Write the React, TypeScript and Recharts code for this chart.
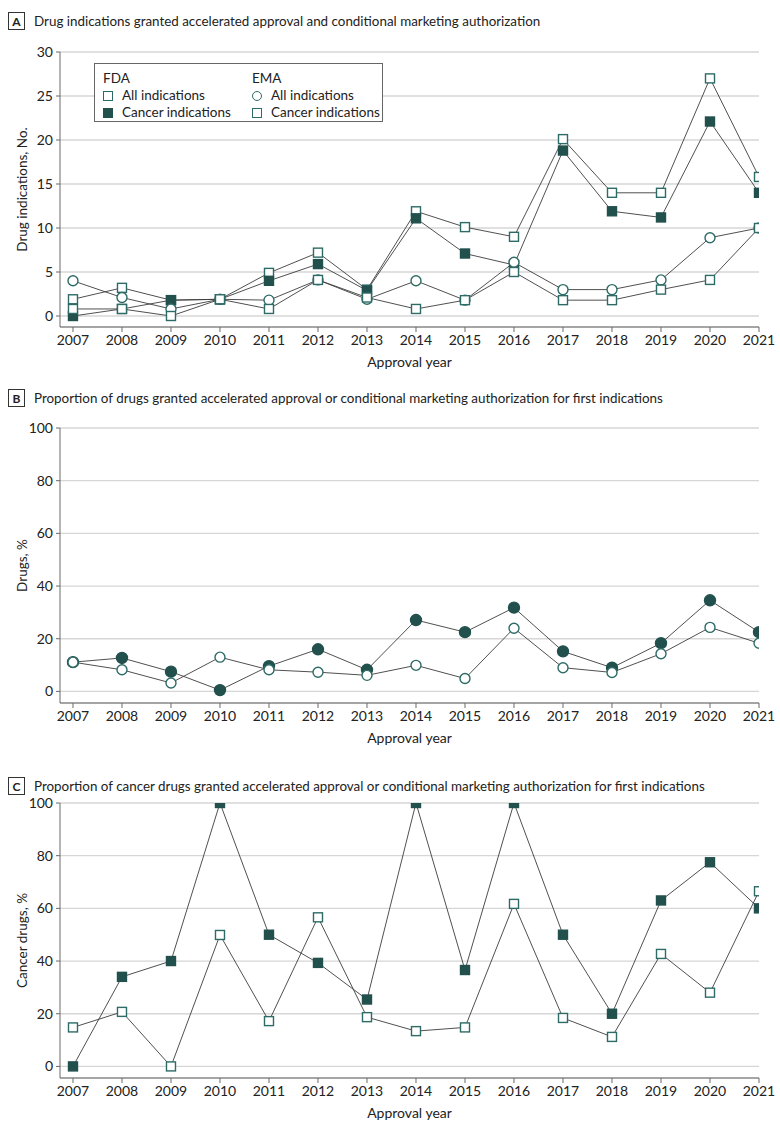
import React from "react";
import { LineChart, Line, XAxis, YAxis, CartesianGrid } from "recharts";

// approval years shared by all three panels
const years = [2007, 2008, 2009, 2010, 2011, 2012, 2013, 2014, 2015, 2016, 2017, 2018, 2019, 2020, 2021];

// panel A: drug indications, No.
const fdaAll = [1.9, 3.2, 1.8, 1.9, 4.9, 7.2, 3.0, 11.9, 10.1, 9.0, 20.1, 14.0, 14.0, 27.0, 15.8];
const fdaCancer = [0, 0.8, 1.8, 1.9, 4.0, 5.9, 2.9, 11.1, 7.1, 5.8, 18.8, 11.9, 11.2, 22.1, 14.0];
const emaAll = [4.0, 2.1, 0.8, 1.9, 1.8, 4.1, 1.9, 4.0, 1.8, 6.1, 3.0, 3.0, 4.1, 8.9, 10.0];
const emaCancer = [0.8, 0.8, 0, 1.9, 0.8, 4.1, 2.1, 0.8, 1.8, 5.0, 1.8, 1.8, 3.0, 4.1, 10.0];

// panel B: share of drugs, first indications (%)
const drugsFilled = [11.1, 12.7, 7.5, 0.5, 9.6, 16.0, 8.2, 27.1, 22.5, 31.8, 15.2, 9.0, 18.3, 34.6, 22.5];
const drugsOpen = [11.1, 8.2, 3.2, 13.0, 8.2, 7.3, 6.1, 9.9, 4.9, 24.0, 9.0, 7.2, 14.3, 24.3, 18.3];

// panel C: share of cancer drugs, first indications (%)
const cancerFilled = [0, 34, 40, 100, 50, 39.3, 25.4, 100, 36.6, 100, 50, 20, 63, 77.5, 60];
const cancerOpen = [14.8, 20.7, 0, 49.9, 17.2, 56.6, 18.7, 13.4, 14.8, 61.7, 18.4, 11.2, 42.7, 28, 66.5];

const ticksA = [0, 5, 10, 15, 20, 25, 30];
const ticksPct = [0, 20, 40, 60, 80, 100];

const FILL = "#22514d";
const OPEN = "#2d6b66";
const LINE = "#3c3c3c";
const GRID = "#d6d6d6";
const AXIS = "#6a6a6a";
const FONT = "Lato, 'Noto Sans', sans-serif";

const rowsA = years.map((y, i) => ({ year: y, fdaAll: fdaAll[i], fdaCancer: fdaCancer[i], emaAll: emaAll[i], emaCancer: emaCancer[i] }));
const rowsB = years.map((y, i) => ({ year: y, filled: drugsFilled[i], open: drugsOpen[i] }));
const rowsC = years.map((y, i) => ({ year: y, filled: cancerFilled[i], open: cancerOpen[i] }));

const squareDot = (filled: boolean) => (props: any) => {
  const { cx, cy, index } = props;
  if (cx == null || cy == null) return <g key={`e-${index}`} />;
  return (
    <rect
      key={`s-${index}`}
      x={cx - 4.5}
      y={cy - 4.5}
      width={9}
      height={9}
      fill={filled ? FILL : "#fff"}
      stroke={filled ? FILL : OPEN}
      strokeWidth={1.4}
    />
  );
};

const circleDot = (filled: boolean) => (props: any) => {
  const { cx, cy, index } = props;
  if (cx == null || cy == null) return <g key={`e-${index}`} />;
  return <circle key={`c-${index}`} cx={cx} cy={cy} r={filled ? 5.5 : 5} fill={filled ? FILL : "#fff"} stroke={filled ? FILL : OPEN} strokeWidth={1.4} />;
};

function Title({ letter, text, top }: { letter: string; text: string; top: number }) {
  return (
    <div style={{ position: "absolute", left: 8, top, display: "flex", alignItems: "center", fontFamily: FONT, color: "#222" }}>
      <div
        style={{
          width: 15,
          height: 16,
          border: "1px solid #333",
          fontWeight: 700,
          fontSize: 12,
          display: "flex",
          alignItems: "center",
          justifyContent: "center",
          marginRight: 9,
        }}
      >
        {letter}
      </div>
      <span style={{ fontSize: 13.4 }}>{text}</span>
    </div>
  );
}

function Panel({
  top,
  data,
  domain,
  ticks,
  yLabel,
  children,
}: {
  top: number;
  data: any[];
  domain: [number, number];
  ticks: number[];
  yLabel: string;
  children: React.ReactNode;
}) {
  const tick = { fill: "#222", fontSize: 14, fontFamily: FONT };
  return (
    <div style={{ position: "absolute", left: 0, top }}>
      <LineChart width={780} height={333} data={data} margin={{ top: 12, right: 21, left: 0, bottom: 0 }}>
        <CartesianGrid vertical={false} stroke={GRID} strokeWidth={1.3} />
        <XAxis
          dataKey="year"
          type="number"
          domain={[2006.735, 2021]}
          ticks={years}
          allowDataOverflow
          height={46}
          tick={tick}
          tickSize={5}
          tickMargin={3}
          stroke={AXIS}
          label={{ value: "Approval year", position: "insideBottom", offset: 6, fill: "#222", fontSize: 14, fontFamily: FONT }}
        />
        <YAxis
          type="number"
          domain={domain}
          ticks={ticks}
          allowDataOverflow
          width={60}
          tick={tick}
          tickSize={4}
          tickMargin={3}
          stroke={AXIS}
          label={{
            value: yLabel,
            angle: -90,
            position: "insideLeft",
            offset: 22,
            fill: "#222",
            fontSize: 13.5,
            fontFamily: FONT,
            style: { textAnchor: "middle" },
          }}
        />
        {children}
      </LineChart>
    </div>
  );
}

function LegendA() {
  const txt: React.CSSProperties = { fontSize: 13.5, lineHeight: "17px", color: "#222", whiteSpace: "nowrap" };
  const sq = (filled: boolean) => (
    <span style={{ display: "inline-block", width: 8, height: 8, border: `1.4px solid ${filled ? FILL : OPEN}`, background: filled ? FILL : "#fff", marginRight: 9 }} />
  );
  const circ = (
    <span style={{ display: "inline-block", width: 8, height: 8, borderRadius: "50%", border: `1.4px solid ${OPEN}`, background: "#fff", marginRight: 9 }} />
  );
  return (
    <div
      style={{
        position: "absolute",
        left: 94,
        top: 63,
        width: 289,
        height: 59,
        border: "1px solid #666",
        background: "#fff",
        fontFamily: FONT,
        display: "flex",
        paddingLeft: 8,
        paddingTop: 6,
        boxSizing: "border-box",
      }}
    >
      <div style={{ width: 149 }}>
        <div style={txt}>FDA</div>
        <div style={{ ...txt, display: "flex", alignItems: "center" }}>{sq(false)}All indications</div>
        <div style={{ ...txt, display: "flex", alignItems: "center" }}>{sq(true)}Cancer indications</div>
      </div>
      <div>
        <div style={txt}>EMA</div>
        <div style={{ ...txt, display: "flex", alignItems: "center" }}>{circ}All indications</div>
        <div style={{ ...txt, display: "flex", alignItems: "center" }}>{sq(false)}Cancer indications</div>
      </div>
    </div>
  );
}

export default function App() {
  const lineProps = { type: "linear" as const, stroke: LINE, strokeWidth: 0.9, isAnimationActive: false };
  return (
    <div style={{ position: "absolute", left: 0, top: 0, width: 780, height: 1133, background: "#fff" }}>
      <Title letter="A" top={12} text="Drug indications granted accelerated approval and conditional marketing authorization" />
      <Panel top={40} data={rowsA} domain={[-1.25, 30]} ticks={ticksA} yLabel="Drug indications, No.">
        <Line {...lineProps} dataKey="fdaAll" dot={squareDot(false)} />
        <Line {...lineProps} dataKey="fdaCancer" dot={squareDot(true)} />
        <Line {...lineProps} dataKey="emaAll" dot={circleDot(false)} />
        <Line {...lineProps} dataKey="emaCancer" dot={squareDot(false)} />
      </Panel>
      <LegendA />

      <Title letter="B" top={389} text="Proportion of drugs granted accelerated approval or conditional marketing authorization for first indications" />
      <Panel top={416} data={rowsB} domain={[-4.4, 100]} ticks={ticksPct} yLabel="Drugs, %">
        <Line {...lineProps} dataKey="filled" dot={circleDot(true)} />
        <Line {...lineProps} dataKey="open" dot={circleDot(false)} />
      </Panel>

      <Title letter="C" top={777} text="Proportion of cancer drugs granted accelerated approval or conditional marketing authorization for first indications" />
      <Panel top={791} data={rowsC} domain={[-4.4, 100]} ticks={ticksPct} yLabel="Cancer drugs, %">
        <Line {...lineProps} dataKey="filled" dot={squareDot(true)} />
        <Line {...lineProps} dataKey="open" dot={squareDot(false)} />
      </Panel>
    </div>
  );
}
